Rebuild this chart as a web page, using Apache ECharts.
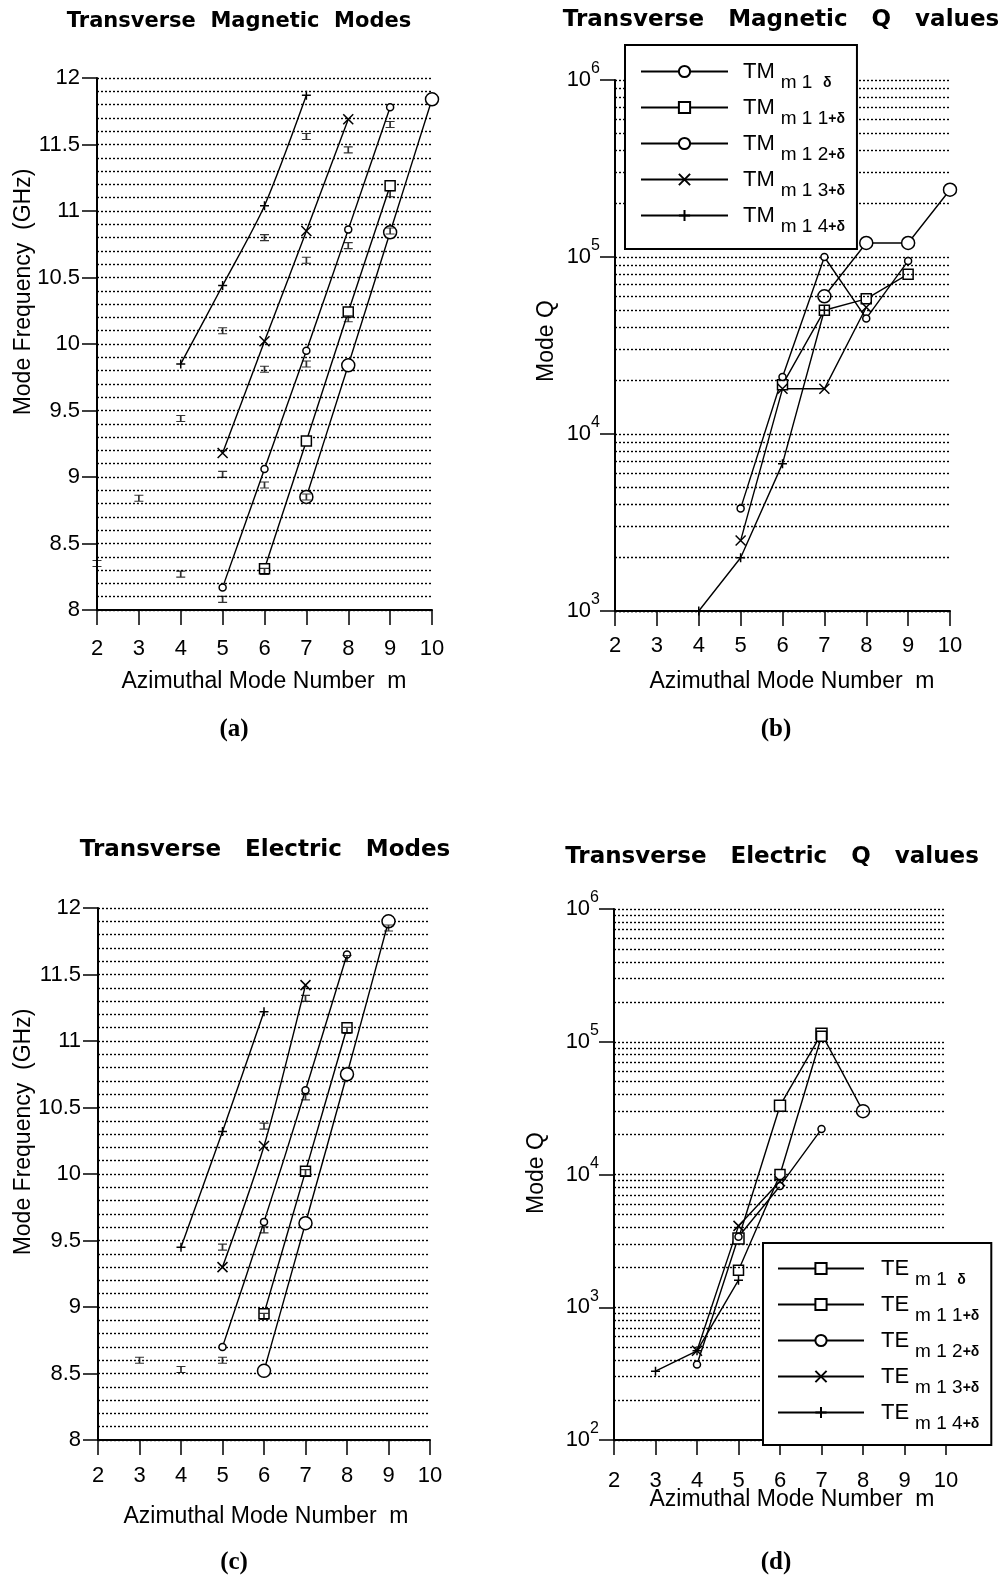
<!DOCTYPE html>
<html><head><meta charset="utf-8">
<script src="https://cdn.jsdelivr.net/npm/echarts@6/dist/echarts.min.js"></script>
<style>html,body{margin:0;padding:0;background:#fff}#c{width:1000px;height:1580px}</style>
</head><body><div id="c"></div>
<script>
// ---------- data ----------
const mValues = [2, 3, 4, 5, 6, 7, 8, 9, 10];          // azimuthal mode number m (x ticks)
const freqTickLabels = ['8', '8.5', '9', '9.5', '10', '10.5', '11', '11.5', '12'];

// (a) Transverse magnetic mode frequencies (GHz), aligned with mValues
const tmFreq_m1d  = [null, null, null, null, null, 8.85, 9.84, 10.84, 11.84];
const tmFreq_m11d = [null, null, null, null, 8.31, 9.27, 10.24, 11.19, null];
const tmFreq_m12d = [null, null, null, 8.17, 9.06, 9.95, 10.86, 11.78, null];
const tmFreq_m13d = [null, null, null, 9.18, 10.02, 10.85, 11.69, null, null];
const tmFreq_m14d = [null, null, 9.85, 10.44, 11.04, 11.87, null, null, null];
// (a) measured frequencies (error-bar marks)
const tmMeasM = [2, 3, 4, 4, 5, 5, 5, 6, 6, 6, 6, 7, 7, 7, 7, 8, 8, 8, 9, 9, 9];
const tmMeasF = [8.35, 8.84, 8.27, 9.44, 8.08, 9.02, 10.10, 8.29, 8.94, 9.81, 10.80, 8.85, 9.85, 10.63, 11.56, 10.19, 10.74, 11.46, 10.85, 11.13, 11.65];

// (b) Transverse magnetic Q values
const tmQ_m1d  = [null, null, null, null, null, 6.0e4, 1.2e5, 1.2e5, 2.4e5];
const tmQ_m11d = [null, null, null, null, 1.9e4, 5.0e4, 5.8e4, 8.0e4, null];
const tmQ_m12d = [null, null, null, 3.8e3, 2.1e4, 1.0e5, 4.5e4, 9.5e4, null];
const tmQ_m13d = [null, null, null, 2.5e3, 1.8e4, 1.8e4, 5.2e4, null, null];
const tmQ_m14d = [null, null, 1.0e3, 2.0e3, 6.8e3, 5.0e4, null, null, null];

// (c) Transverse electric mode frequencies (GHz)
const teFreq_m1d  = [null, null, null, null, 8.52, 9.63, 10.75, 11.90, null];
const teFreq_m11d = [null, null, null, null, 8.95, 10.02, 11.10, null, null];
const teFreq_m12d = [null, null, null, 8.70, 9.64, 10.63, 11.65, null, null];
const teFreq_m13d = [null, null, null, 9.30, 10.21, 11.42, null, null, null];
const teFreq_m14d = [null, null, 9.45, 10.32, 11.22, null, null, null, null];
// (c) measured frequencies
const teMeasM = [3, 4, 5, 5, 6, 6, 6, 7, 7, 7, 8, 8, 9];
const teMeasF = [8.60, 8.53, 8.60, 9.45, 8.93, 9.58, 10.36, 10.01, 10.58, 11.32, 11.08, 11.62, 11.85];

// (d) Transverse electric Q values
const teQ_m1d  = [null, null, null, 3.3e3, 3.3e4, 1.15e5, 3.0e4, null, null];
const teQ_m11d = [null, null, null, 1.9e3, 1.0e4, 1.1e5, null, null, null];
const teQ_m12d = [null, null, 3.7e2, 3.4e3, 8.2e3, 2.2e4, null, null, null];
const teQ_m13d = [null, null, 4.7e2, 4.1e3, 8.9e3, null, null, null, null];
const teQ_m14d = [null, 3.3e2, 4.7e2, 1.6e3, null, null, null, null, null];

// log-axis decades and minor grid multipliers
const tmDecades = [1e3, 1e4, 1e5];
const teDecades = [1e2, 1e3, 1e4, 1e5];
const minorMultipliers = [2, 3, 4, 5, 6, 7, 8, 9];

// legend text
const modeSubMain = ['m 1  ', 'm 1 1', 'm 1 2', 'm 1 3', 'm 1 4'];
const modeSubDelta = ['δ', '+δ', '+δ', '+δ', '+δ'];

// ---------- build ----------
const BLACK = '#000';
const FONT = '"Liberation Sans", Arial, sans-serif';
const GRIDLINE = {color: '#000', type: [2, 2], width: 1.4};
const pairs = arr => mValues.map((m, i) => [m, arr[i]]).filter(p => p[1] != null);
const zip = (xs, ys) => xs.map((x, i) => [x, ys[i]]);

const SYM = [
  {symbol: 'circle', size: 13},
  {symbol: 'rect', size: 10},
  {symbol: 'circle', size: 7},
  {symbol: 'path://M0,0L10,10M10,0L0,10', size: 10},
  {symbol: 'path://M0,5L10,5M5,0L5,10', size: 9}
];
const IBEAM = 'path://M0,0L8,0M4,0L4,6M0,6L8,6';

function lineSeries(name, data, k, ai, smooth) {
  return {
    type: 'line', name, xAxisIndex: ai, yAxisIndex: ai, data,
    symbol: SYM[k].symbol, symbolSize: SYM[k].size, showAllSymbol: true,
    smooth: smooth, clip: false, z: 3,
    lineStyle: {color: BLACK, width: 1.4},
    itemStyle: {color: '#fff', borderColor: BLACK, borderWidth: 1.5},
    emphasis: {disabled: true}, animation: false
  };
}
function measSeries(data, ai) {
  return {
    type: 'scatter', name: 'meas' + ai, xAxisIndex: ai, yAxisIndex: ai, data,
    symbol: IBEAM, symbolSize: [9, 6], clip: false, z: 4,
    itemStyle: {color: 'none', borderColor: BLACK, borderWidth: 1.4},
    emphasis: {disabled: true}, animation: false
  };
}
function minorGridSeries(ai, decades) {
  const vals = [];
  decades.forEach(d => minorMultipliers.forEach(k => vals.push(k * d)));
  return {
    type: 'line', name: 'grid' + ai, xAxisIndex: ai, yAxisIndex: ai, data: [], z: 1, silent: true,
    markLine: {
      silent: true, symbol: ['none', 'none'], label: {show: false}, animation: false,
      lineStyle: GRIDLINE, emphasis: {disabled: true},
      data: vals.map(v => ({yAxis: v}))
    }
  };
}

function xAx(gi, margin) {
  return {
    type: 'value', gridIndex: gi, min: 2, max: 10, interval: 1,
    axisLine: {show: true, onZero: false, lineStyle: {color: BLACK, width: 2}},
    axisTick: {show: true, length: 15, lineStyle: {color: BLACK, width: 1.5}},
    axisLabel: {color: BLACK, fontSize: 22, fontFamily: FONT, margin: margin,
      formatter: v => String(mValues[mValues.indexOf(v)])},
    splitLine: {show: false}
  };
}
function yFreq(gi) {
  return {
    type: 'value', gridIndex: gi, min: 8, max: 12, interval: 0.5,
    axisLine: {show: true, onZero: false, lineStyle: {color: BLACK, width: 2}},
    axisTick: {show: true, length: 15, lineStyle: {color: BLACK, width: 1.5}},
    axisLabel: {color: BLACK, fontSize: 22, fontFamily: FONT, margin: 17,
      formatter: v => freqTickLabels[Math.round((v - 8) / 0.5)]},
    splitLine: {show: true, lineStyle: GRIDLINE},
    minorTick: {show: false, splitNumber: 5},
    minorSplitLine: {show: true, lineStyle: GRIDLINE}
  };
}
function yLog(gi, min) {
  return {
    type: 'log', logBase: 10, gridIndex: gi, min: min, max: 1e6,
    axisLine: {show: true, onZero: false, lineStyle: {color: BLACK, width: 2}},
    axisTick: {show: true, length: 15, lineStyle: {color: BLACK, width: 1.5}},
    axisLabel: {color: BLACK, fontFamily: FONT, margin: 15,
      formatter: v => '{b|10}{e|' + Math.round(Math.log10(v)) + '}',
      rich: {
        b: {fontSize: 22, lineHeight: 22, verticalAlign: 'middle', fontFamily: FONT, color: BLACK},
        e: {fontSize: 16, lineHeight: 16, verticalAlign: 'bottom', padding: [0, 0, 14, 0], fontFamily: FONT, color: BLACK}
      }},
    splitLine: {show: true, lineStyle: GRIDLINE}
  };
}

const tmFreqArrays = [tmFreq_m1d, tmFreq_m11d, tmFreq_m12d, tmFreq_m13d, tmFreq_m14d];
const teFreqArrays = [teFreq_m1d, teFreq_m11d, teFreq_m12d, teFreq_m13d, teFreq_m14d];
const tmQArrays = [tmQ_m1d, tmQ_m11d, tmQ_m12d, tmQ_m13d, tmQ_m14d];
const teQArrays = [teQ_m1d, teQ_m11d, teQ_m12d, teQ_m13d, teQ_m14d];
const tmNames = modeSubMain.map((_, i) => 'TM' + i);
const teNames = modeSubMain.map((_, i) => 'TE' + i);

const series = [];
series.push(minorGridSeries(1, tmDecades));
series.push(minorGridSeries(3, teDecades));
tmFreqArrays.forEach((a, k) => series.push(lineSeries('TMf' + k, pairs(a), k, 0, 0.25)));
series.push(measSeries(zip(tmMeasM, tmMeasF), 0));
tmQArrays.forEach((a, k) => series.push(lineSeries(tmNames[k], pairs(a), k, 1, false)));
teFreqArrays.forEach((a, k) => series.push(lineSeries('TEf' + k, pairs(a), k, 2, 0.25)));
series.push(measSeries(zip(teMeasM, teMeasF), 2));
teQArrays.forEach((a, k) => {
  const s = lineSeries(teNames[k], pairs(a), k, 3, false);
  if (k === 0) {           // legend shows a square for TE m1δ; last point drawn as a circle
    s.symbol = 'rect'; s.symbolSize = 11;
    s.data = s.data.map((p, i, all) => i === all.length - 1 ? {value: p, symbol: 'circle', symbolSize: 13} : p);
  }
  series.push(s);
});

function legendOpt(names, prefix, left, top, padding, itemWidth, tPad) {
  return {
    data: names, left: left, top: top, orient: 'vertical', selectedMode: false,
    itemWidth: itemWidth, itemHeight: 14, itemGap: -5, padding: padding,
    backgroundColor: '#fff', borderColor: BLACK, borderWidth: 2, borderRadius: 0, z: 10,
    formatter: name => {
      const i = names.indexOf(name);
      return '{t|' + prefix + '}{s|' + modeSubMain[i] + '}{d|' + modeSubDelta[i] + '}';
    },
    textStyle: {
      color: BLACK, fontFamily: FONT,
      rich: {
        t: {fontSize: 22, lineHeight: 22, verticalAlign: 'middle', padding: [0, 0, 0, tPad], fontFamily: FONT, color: BLACK},
        s: {fontSize: 19, lineHeight: 19, verticalAlign: 'middle', padding: [22, 0, 0, 6], fontFamily: FONT, color: BLACK},
        d: {fontSize: 14, lineHeight: 14, fontWeight: 'bold', verticalAlign: 'middle', padding: [24, 0, 0, 0], fontFamily: FONT, color: BLACK}
      }
    }
  };
}

const texts = [
  {x: 239, y: 22, t: 'Transverse  Magnetic  Modes', f: 'bold 21px "DejaVu Sans"'},
  {x: 781, y: 20, t: 'Transverse   Magnetic   Q   values', f: 'bold 23px "DejaVu Sans"'},
  {x: 265, y: 850, t: 'Transverse   Electric   Modes', f: 'bold 23px "DejaVu Sans"'},
  {x: 772, y: 857, t: 'Transverse   Electric   Q   values', f: 'bold 23px "DejaVu Sans"'},
  {x: 264, y: 682, t: 'Azimuthal Mode Number  m', f: '23px "Liberation Sans"'},
  {x: 792, y: 682, t: 'Azimuthal Mode Number  m', f: '23px "Liberation Sans"'},
  {x: 266, y: 1517, t: 'Azimuthal Mode Number  m', f: '23px "Liberation Sans"'},
  {x: 792, y: 1500, t: 'Azimuthal Mode Number  m', f: '23px "Liberation Sans"'},
  {x: 24, y: 292, t: 'Mode Frequency  (GHz)', f: '23px "Liberation Sans"', r: Math.PI / 2},
  {x: 24, y: 1132, t: 'Mode Frequency  (GHz)', f: '23px "Liberation Sans"', r: Math.PI / 2},
  {x: 547, y: 341, t: 'Mode Q', f: '23px "Liberation Sans"', r: Math.PI / 2},
  {x: 537, y: 1173, t: 'Mode Q', f: '23px "Liberation Sans"', r: Math.PI / 2},
  {x: 234, y: 730, t: '(a)', f: 'bold 25px "Liberation Serif"'},
  {x: 776, y: 730, t: '(b)', f: 'bold 25px "Liberation Serif"'},
  {x: 234, y: 1563, t: '(c)', f: 'bold 25px "Liberation Serif"'},
  {x: 776, y: 1563, t: '(d)', f: 'bold 25px "Liberation Serif"'}
];

const option = {
  backgroundColor: '#fff',
  animation: false,
  grid: [
    {left: 97, top: 78, width: 335, height: 532},
    {left: 615, top: 80, width: 335, height: 531},
    {left: 98, top: 908, width: 332, height: 532},
    {left: 614, top: 909, width: 332, height: 531}
  ],
  xAxis: [xAx(0, 28), xAx(1, 24), xAx(2, 25), xAx(3, 30)],
  yAxis: [yFreq(0), yLog(1, 1e3), yFreq(2), yLog(3, 1e2)],
  legend: [
    legendOpt(tmNames, 'TM', 625, 45, [6, 12, 13, 15], 87, 10),
    legendOpt(teNames, 'TE', 763, 1243, [5, 12, 12, 14], 86, 12)
  ],
  graphic: texts.map(o => ({
    type: 'text', x: o.x, y: o.y, rotation: o.r || 0, silent: true, z: 20,
    style: {text: o.t, font: o.f, fill: BLACK, align: 'center', verticalAlign: 'middle',
      textAlign: 'center', textVerticalAlign: 'middle'}
  })),
  series: series
};

const chart = echarts.init(document.getElementById('c'), null, {renderer: 'canvas', width: 1000, height: 1580});
chart.setOption(option);
</script>
</body></html>
